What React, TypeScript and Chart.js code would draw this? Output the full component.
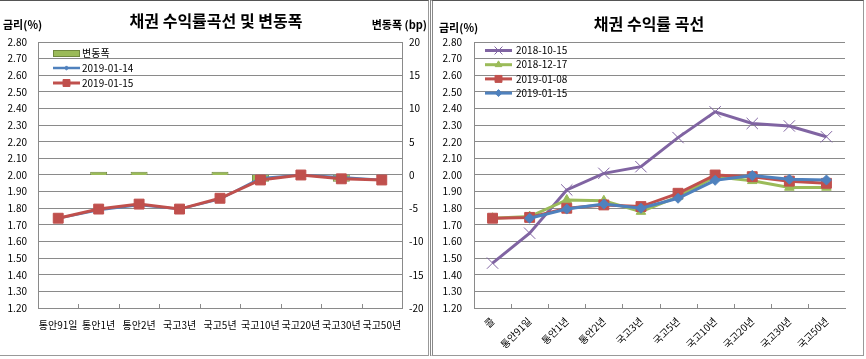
import React, { useEffect, useRef } from 'react';
import { Chart, registerables } from 'chart.js';

Chart.register(...registerables);

const FONT = "'Noto Sans CJK KR', 'Noto Sans', sans-serif";
const BLUE = '#4F81BD';
const RED = '#C0504D';
const GREEN = '#9BBB59';
const GREEN_DARK = '#71893F';
const PURPLE = '#8064A2';
const GRID = '#8A8A8A';

// ---------- left chart data ----------
const leftCategories = ['통안91일', '통안1년', '통안2년', '국고3년', '국고5년', '국고10년', '국고20년', '국고30년', '국고50년'];
const changeBp = [0, 0.5, 0.5, 0, 0.5, -1, 0, -1, 0];
const yield20190114 = [1.74, 1.79, 1.82, 1.795, 1.855, 1.98, 2.0, 1.987, 1.97];
const yield20190115 = [1.74, 1.795, 1.825, 1.795, 1.86, 1.97, 2.0, 1.977, 1.97];
const rateTicks = [1.2, 1.3, 1.4, 1.5, 1.6, 1.7, 1.8, 1.9, 2.0, 2.1, 2.2, 2.3, 2.4, 2.5, 2.6, 2.7, 2.8];
const changeTicks = [-20, -15, -10, -5, 0, 5, 10, 15, 20];

// ---------- right chart data ----------
const rightCategories = ['콜', '통안91일', '통안1년', '통안2년', '국고3년', '국고5년', '국고10년', '국고20년', '국고30년', '국고50년'];
const curve20181015 = [1.47, 1.65, 1.91, 2.01, 2.05, 2.225, 2.38, 2.31, 2.295, 2.23];
const curve20181217 = [1.74, 1.75, 1.85, 1.845, 1.78, 1.87, 1.99, 1.965, 1.925, 1.925];
const curve20190108 = [1.74, 1.745, 1.8, 1.82, 1.81, 1.89, 2.0, 1.99, 1.963, 1.95];
const curve20190115 = [null, 1.74, 1.795, 1.825, 1.8, 1.86, 1.968, 1.997, 1.975, 1.97];

function drawMarker(ctx: CanvasRenderingContext2D, style: string, x: number, y: number, r: number, fill: string, stroke: string, bw: number) {
  ctx.beginPath();
  if (style === 'rect') {
    const s = r * Math.SQRT1_2;
    ctx.rect(x - s, y - s, 2 * s, 2 * s);
  } else if (style === 'rectRot') {
    ctx.moveTo(x - r, y);
    ctx.lineTo(x, y - r);
    ctx.lineTo(x + r, y);
    ctx.lineTo(x, y + r);
    ctx.closePath();
  } else if (style === 'triangle') {
    let a = 0;
    ctx.moveTo(x + Math.sin(a) * r, y - Math.cos(a) * r);
    a += (2 * Math.PI) / 3;
    ctx.lineTo(x + Math.sin(a) * r, y - Math.cos(a) * r);
    a += (2 * Math.PI) / 3;
    ctx.lineTo(x + Math.sin(a) * r, y - Math.cos(a) * r);
    ctx.closePath();
  } else if (style === 'crossRot') {
    const s = r * Math.SQRT1_2;
    ctx.moveTo(x - s, y - s);
    ctx.lineTo(x + s, y + s);
    ctx.moveTo(x + s, y - s);
    ctx.lineTo(x - s, y + s);
  }
  ctx.fillStyle = fill;
  if (style !== 'crossRot') ctx.fill();
  ctx.lineWidth = bw;
  ctx.strokeStyle = stroke;
  ctx.stroke();
}

type TextItem = { text: string; x: number; y: number; align: CanvasTextAlign; font: string };
type LegendCfg = { x: number; y: number; step: number; len: number; textX: number };

function overlayPlugin(texts: TextItem[], legend: LegendCfg) {
  return {
    id: 'overlay',
    afterDraw(chart: any) {
      const ctx: CanvasRenderingContext2D = chart.ctx;
      const area = chart.chartArea;
      ctx.save();
      // inward category tick marks on x axis
      const xs = chart.scales.x;
      ctx.strokeStyle = GRID;
      ctx.lineWidth = 1;
      const n = chart.data.labels.length;
      for (let i = 1; i < n; i++) {
        const px = Math.round((xs.getPixelForTick(i - 1) + xs.getPixelForTick(i)) / 2) + 0.5;
        ctx.beginPath();
        ctx.moveTo(px, area.bottom);
        ctx.lineTo(px, area.bottom - 4);
        ctx.stroke();
      }
      // texts
      ctx.fillStyle = '#000';
      ctx.textBaseline = 'middle';
      for (const t of texts) {
        ctx.font = t.font;
        ctx.textAlign = t.align;
        ctx.fillText(t.text, t.x, t.y);
      }
      // legend
      ctx.font = `10px ${FONT}`;
      ctx.textAlign = 'left';
      chart.data.datasets.forEach((ds: any, i: number) => {
        const y = legend.y + i * legend.step;
        const x0 = legend.x;
        if (ds.type === 'bar') {
          ctx.fillStyle = ds.backgroundColor;
          ctx.fillRect(x0, y - 3, legend.len, 7);
          ctx.strokeStyle = ds.borderColor;
          ctx.lineWidth = 1;
          ctx.strokeRect(x0 + 0.5, y - 3 + 0.5, legend.len - 1, 6);
        } else {
          ctx.strokeStyle = ds.borderColor;
          ctx.lineWidth = ds.borderWidth;
          ctx.beginPath();
          ctx.moveTo(x0, y);
          ctx.lineTo(x0 + legend.len, y);
          ctx.stroke();
          drawMarker(ctx, ds.pointStyle, x0 + legend.len / 2, y, ds.pointRadius * 0.7, ds.pointBackgroundColor, ds.pointBorderColor, ds.pointBorderWidth);
        }
        ctx.fillStyle = '#000';
        ctx.fillText(ds.label, legend.textX, y);
      });
      ctx.restore();
    },
  };
}

function lineDs(label: string, data: (number | null)[], color: string, style: string, radius: number, width: number, order: number, yAxisID = 'y') {
  return {
    type: 'line',
    label,
    data,
    yAxisID,
    borderColor: color,
    backgroundColor: color,
    borderWidth: width,
    pointStyle: style,
    pointRadius: radius,
    pointBorderWidth: 1,
    pointBorderColor: color,
    pointBackgroundColor: color,
    tension: 0,
    spanGaps: false,
    order,
  };
}

const tickFont = { family: FONT, size: 10 };

function makeLeft(): any {
  return {
    type: 'bar',
    data: {
      labels: leftCategories,
      datasets: [
        {
          type: 'bar',
          label: '변동폭',
          data: changeBp,
          yAxisID: 'y1',
          backgroundColor: GREEN,
          borderColor: GREEN_DARK,
          borderWidth: 1,
          barPercentage: 0.42,
          categoryPercentage: 1,
          order: 3,
        },
        lineDs('2019-01-14', yield20190114, BLUE, 'rectRot', 3, 2.5, 2),
        lineDs('2019-01-15', yield20190115, RED, 'rect', 7, 3, 1),
      ],
    },
    options: {
      responsive: false,
      animation: false,
      events: [],
      layout: { padding: { top: 41, left: 0, right: 0, bottom: 0 } },
      plugins: { legend: { display: false }, title: { display: false }, tooltip: { enabled: false } },
      scales: {
        x: {
          offset: true,
          grid: { display: false, drawTicks: false },
          border: { color: GRID },
          ticks: { autoSkip: false, maxRotation: 0, minRotation: 0, padding: 11, font: tickFont, color: '#000' },
          afterFit: (s: any) => { s.height = 47; },
        },
        y: {
          position: 'left',
          min: 1.2,
          max: 2.8,
          afterBuildTicks: (s: any) => { s.ticks = rateTicks.map((value) => ({ value })); },
          grid: { color: GRID, drawTicks: false },
          border: { color: GRID },
          ticks: { padding: 11, font: tickFont, color: '#000', callback: (v: any) => Number(v).toFixed(2) },
          afterFit: (s: any) => { s.width = 38; },
        },
        y1: {
          position: 'right',
          min: -20,
          max: 20,
          afterBuildTicks: (s: any) => { s.ticks = changeTicks.map((value) => ({ value })); },
          grid: { display: false, drawTicks: false },
          border: { color: GRID },
          ticks: { padding: 7, font: tickFont, color: '#000', callback: (v: any) => String(v) },
          afterFit: (s: any) => { s.width = 26; },
        },
      },
    },
    plugins: [
      overlayPlugin(
        [
          { text: '채권 수익률곡선 및 변동폭', x: 216, y: 20, align: 'center', font: `bold 16px ${FONT}` },
          { text: '금리(%)', x: 3, y: 24, align: 'left', font: `bold 11px ${FONT}` },
          { text: '변동폭 (bp)', x: 427, y: 24, align: 'right', font: `bold 11px ${FONT}` },
        ],
        { x: 53, y: 52, step: 15, len: 27, textX: 82 }
      ),
    ],
  };
}

function makeRight(): any {
  return {
    type: 'line',
    data: {
      labels: rightCategories,
      datasets: [
        lineDs('2018-10-15', curve20181015, PURPLE, 'crossRot', 8, 3, 4),
        lineDs('2018-12-17', curve20181217, GREEN, 'triangle', 5.5, 3, 3),
        lineDs('2019-01-08', curve20190108, RED, 'rect', 7, 3, 2),
        lineDs('2019-01-15', curve20190115, BLUE, 'rectRot', 5, 3, 1),
      ],
    },
    options: {
      responsive: false,
      animation: false,
      events: [],
      layout: { padding: { top: 41, left: 0, right: 18, bottom: 0 } },
      plugins: { legend: { display: false }, title: { display: false }, tooltip: { enabled: false } },
      scales: {
        x: {
          offset: true,
          grid: { display: false, drawTicks: false },
          border: { color: GRID },
          ticks: { autoSkip: false, maxRotation: 45, minRotation: 45, padding: 7, font: tickFont, color: '#000' },
          afterFit: (s: any) => { s.height = 47; },
        },
        y: {
          position: 'left',
          min: 1.2,
          max: 2.8,
          afterBuildTicks: (s: any) => { s.ticks = rateTicks.map((value) => ({ value })); },
          grid: { color: GRID, drawTicks: false },
          border: { color: GRID },
          ticks: { padding: 12, font: tickFont, color: '#000', callback: (v: any) => Number(v).toFixed(2) },
          afterFit: (s: any) => { s.width = 41; },
        },
      },
    },
    plugins: [
      overlayPlugin(
        [
          { text: '채권 수익률 곡선', x: 216, y: 23, align: 'center', font: `bold 16px ${FONT}` },
          { text: '금리(%)', x: 6, y: 27, align: 'left', font: `bold 11px ${FONT}` },
        ],
        { x: 52, y: 49.5, step: 14.2, len: 27, textX: 83 }
      ),
    ],
  };
}

function ChartBox({ width, height, make }: { width: number; height: number; make: () => any }) {
  const ref = useRef<HTMLCanvasElement | null>(null);
  useEffect(() => {
    if (!ref.current) return;
    const chart = new Chart(ref.current, make());
    return () => chart.destroy();
  }, []);
  return <canvas ref={ref} width={width} height={height} style={{ display: 'block', width, height }} />;
}

export default function App() {
  return (
    <div style={{ position: 'fixed', left: 0, top: 0, width: 866, height: 359, background: '#fff', overflow: 'hidden' }}>
      <div
        style={{
          position: 'absolute', left: 0, top: 0, width: 429, height: 356, boxSizing: 'border-box',
          borderTop: '1px solid #555', borderRight: '1px solid #999', borderBottom: '1px solid #999',
        }}
      >
        <ChartBox width={428} height={354} make={makeLeft} />
      </div>
      <div
        style={{
          position: 'absolute', left: 430, top: 0, width: 434, height: 356, boxSizing: 'border-box',
          borderTop: '1px solid #555', borderLeft: '3px double #888', borderRight: '1px solid #999', borderBottom: '1px solid #999',
        }}
      >
        <ChartBox width={430} height={354} make={makeRight} />
      </div>
    </div>
  );
}
